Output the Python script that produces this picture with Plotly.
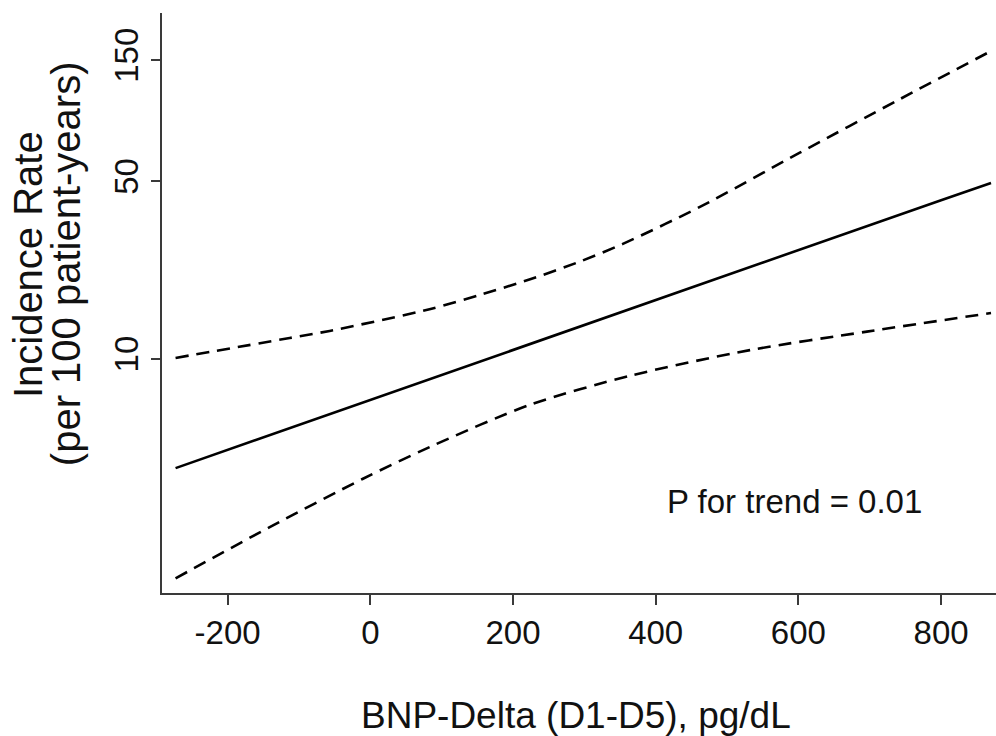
import plotly.graph_objects as go

# Data
x_fit = [-273, -200, 0, 200, 400, 600, 800, 870]
rate_fit = [3.72, 4.39, 6.90, 10.85, 17.1, 26.8, 42.2, 49.3]

x_upper = [-273, -113, -57, 83, 154, 224, 294, 354, 462, 602, 743, 870]
rate_upper = [10.1, 12.1, 12.9, 15.7, 17.9, 20.6, 24.2, 28.4, 39.7, 64.9, 105.7, 163]

x_lower = [-273, -141, -11, 83, 224, 364, 532, 696, 870]
rate_lower = [1.37, 2.18, 3.37, 4.50, 6.61, 8.59, 10.84, 12.82, 15.17]

x_ticks = [-200, 0, 200, 400, 600, 800]
x_ticklabels = ["-200", "0", "200", "400", "600", "800"]
y_ticks = [10, 50, 150]
y_ticklabels = ["10", "50", "150"]

x_title = "BNP-Delta (D1-D5), pg/dL"
y_title_1 = "Incidence Rate"
y_title_2 = "(per 100 patient-years)"
p_text = "P for trend = 0.01"

FONT = "Arial, Liberation Sans, sans-serif"
AXC = "#3a3a3a"
TXT = "#111"

fig = go.Figure()
fig.add_trace(go.Scatter(x=x_upper, y=rate_upper, mode="lines",
                         line=dict(color="black", width=2.6, dash="13px,8px", shape="spline", smoothing=0.8),
                         showlegend=False, hoverinfo="skip"))
fig.add_trace(go.Scatter(x=x_lower, y=rate_lower, mode="lines",
                         line=dict(color="black", width=2.6, dash="13px,8px", shape="spline", smoothing=0.8),
                         showlegend=False, hoverinfo="skip"))
fig.add_trace(go.Scatter(x=x_fit, y=rate_fit, mode="lines",
                         line=dict(color="black", width=2.6),
                         showlegend=False))

fig.update_layout(
    width=996, height=736,
    margin=dict(l=162, r=0, t=13, b=143),
    paper_bgcolor="white", plot_bgcolor="white",
    font=dict(family=FONT, color=TXT, size=33),
    xaxis=dict(range=[-292, 877], tickvals=x_ticks, ticktext=x_ticklabels,
               showline=True, linecolor=AXC, linewidth=1.5,
               ticks="outside", ticklen=10, tickwidth=1.5, tickcolor=AXC,
               showgrid=False, zeroline=False, tickfont=dict(size=33, family=FONT, color=TXT)),
    yaxis=dict(type="log", range=[0.079, 2.362], tickvals=y_ticks, ticktext=y_ticklabels,
               tickangle=-90, showline=True, linecolor=AXC, linewidth=1.5,
               ticks="outside", ticklen=9, tickwidth=1.5, tickcolor=AXC,
               showgrid=False, zeroline=False, tickfont=dict(size=33, family=FONT, color=TXT)),
    annotations=[
        dict(text=p_text, xref="paper", yref="paper", x=0.758, y=0.157, showarrow=False,
             xanchor="center", yanchor="middle", font=dict(size=33, family=FONT, color=TXT)),
        dict(text=x_title, xref="paper", yref="paper", x=0.497, y=-0.212, showarrow=False,
             xanchor="center", yanchor="middle", font=dict(size=37, family=FONT, color=TXT)),
        dict(text=y_title_1, xref="paper", yref="paper", x=-0.1607, y=0.567, showarrow=False,
             textangle=-90, xanchor="center", yanchor="middle", font=dict(size=40, family=FONT, color=TXT)),
        dict(text=y_title_2, xref="paper", yref="paper", x=-0.1151, y=0.567, showarrow=False,
             textangle=-90, xanchor="center", yanchor="middle", font=dict(size=40, family=FONT, color=TXT)),
    ],
)

fig.write_html("out.html")
